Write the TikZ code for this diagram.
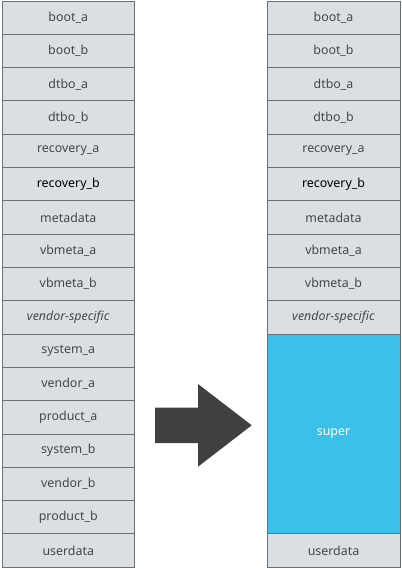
\documentclass[tikz,border=0pt]{standalone}
\usepackage{fontspec}
\setmainfont{Noto Sans}
\usetikzlibrary{positioning}

\definecolor{slotfill}{HTML}{DADFE3}
\definecolor{slotline}{HTML}{6B7074}
\definecolor{slottext}{HTML}{45484B}
\definecolor{superfill}{HTML}{3BC1E9}
\definecolor{arrowgrey}{HTML}{404040}

\begin{document}
\begin{tikzpicture}[
            x=1pt, y=1pt,
            slot/.style={
                draw=slotline, line width=0.8pt, fill=slotfill, text=slottext,
                minimum width=132.5pt, minimum height=\rowh pt, inner sep=0pt,
                font=\fontsize{12.4}{14}\selectfont
            },
            superslot/.style={slot, fill=superfill, text=white,
                minimum height={6*\rowh pt}}
        ]

            \pgfmathsetmacro{\rowh}{33.3}
            \pgfmathsetmacro{\top}{-1}
            \pgfmathsetmacro{\leftx}{68.25}
            \pgfmathsetmacro{\rightx}{333.5}

            \useasboundingbox (0,0) rectangle (401,-569);

            % old layout
            \foreach \name [count=\i] in {boot\_a, boot\_b, dtbo\_a, dtbo\_b, recovery\_a,
                    {\color{black}recovery\_b}, metadata, vbmeta\_a, vbmeta\_b,
                    \textit{vendor-specific}, system\_a, vendor\_a, product\_a,
                    system\_b, vendor\_b, product\_b, userdata} {
                \node[slot] (L\i) at (\leftx, {\top-\rowh*(\i-0.5)}) {\name};
            }

            % new layout
            \foreach \name [count=\i] in {boot\_a, boot\_b, dtbo\_a, dtbo\_b, recovery\_a,
                    {\color{black}recovery\_b}, metadata, vbmeta\_a, vbmeta\_b,
                    \textit{vendor-specific}} {
                \node[slot, minimum width=133pt] (R\i) at (\rightx, {\top-\rowh*(\i-0.5)}) {\name};
            }
            \node[superslot, minimum width=133pt] (super) at (\rightx, {\top-\rowh*13}) {super};
            \node[slot, minimum width=133pt] (R17) at (\rightx, {\top-\rowh*16.5}) {userdata};

            % big arrow
            \fill[arrowgrey] (155,-407.7) -- (198,-407.7) -- (198,-384) -- (251.7,-425.3)
                -- (198,-466.7) -- (198,-443) -- (155,-443) -- cycle;
        \end{tikzpicture}
\end{document}
